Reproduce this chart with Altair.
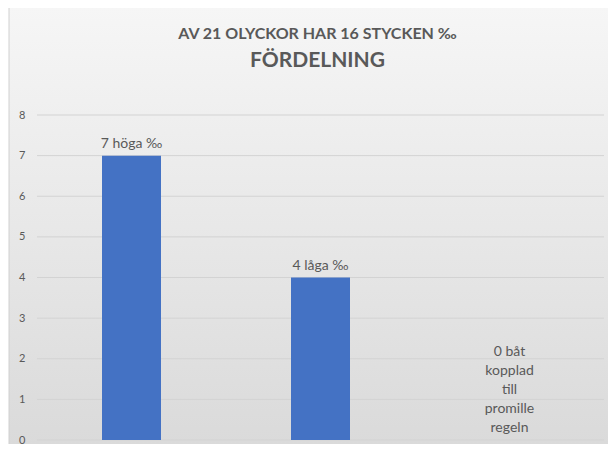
import altair as alt
import pandas as pd

categories = ["Höga", "Låga", "Kopplad"]
values = [7, 4, 0]
labels = ["7 höga ‰", "4 låga ‰", "0 båt\nkopplad\ntill\npromille\nregeln"]
y_ticks = [0, 1, 2, 3, 4, 5, 6, 7, 8]
title_line1 = "AV 21 OLYCKOR HAR 16 STYCKEN ‰"
title_line2 = "FÖRDELNING"

df = pd.DataFrame({"kategori": categories, "antal": values, "etikett": labels})
df["rader"] = df["etikett"].str.count("\n")
grid_df = pd.DataFrame({"v": y_ticks})
one = pd.DataFrame({"a": [0]})

W, H = 567, 325
PAD = {"left": 29, "top": 107, "right": 4, "bottom": 4}
FONT = "Lato"
TXT = "#595959"
LH = 19
TOP = 8 + PAD["top"]

grad = alt.LinearGradient(
    gradient="linear",
    stops=[alt.GradientStop(color="#f6f6f6", offset=0),
           alt.GradientStop(color="#d9d9d9", offset=1)],
    x1=0, x2=0, y1=0, y2=1,
)

bg = alt.Chart(one).mark_rect(
    fill=grad, stroke="#d0d0d0", strokeWidth=1
).encode(
    x=alt.value(-PAD["left"] + 1), x2=alt.value(W + 20),
    y=alt.value(-PAD["top"] - 1), y2=alt.value(H + 20),
)

t1 = alt.Chart(one).mark_text(
    font=FONT, fontSize=16, fontWeight="bold", color=TXT, baseline="alphabetic"
).encode(x=alt.value(W / 2 - 3), y=alt.value(38.5 - TOP), text=alt.value(title_line1))

t2 = alt.Chart(one).mark_text(
    font=FONT, fontSize=21, fontWeight="bold", color=TXT, baseline="alphabetic"
).encode(x=alt.value(W / 2 - 3), y=alt.value(67 - TOP), text=alt.value(title_line2))

y_scale = alt.Scale(domain=[0, 8])

grid = alt.Chart(grid_df).mark_rule(color="#d3d3d3", strokeWidth=1).encode(
    y=alt.Y("v:Q", scale=y_scale,
            axis=alt.Axis(values=y_ticks, title=None, domain=False, ticks=False,
                          grid=False, labelColor=TXT, labelFont=FONT,
                          labelFontSize=11, labelPadding=12, zindex=1)),
    x=alt.value(0), x2=alt.value(W),
)

x_enc = alt.X("kategori:N", sort=categories, axis=None,
              scale=alt.Scale(paddingInner=0, paddingOuter=0))

bars = alt.Chart(df).mark_bar(size=59, color="#4472C4").encode(
    x=x_enc,
    y=alt.Y("antal:Q", scale=y_scale),
)

text_single = alt.Chart(df).transform_filter("datum.rader == 0").mark_text(
    baseline="bottom", dy=-5, font=FONT, fontSize=14, color=TXT,
).encode(x=x_enc, y=alt.Y("antal:Q", scale=y_scale), text="etikett:N")

text_multi = alt.Chart(df).transform_filter("datum.rader == 4").mark_text(
    baseline="bottom", dy=-5 - 4 * LH, font=FONT, fontSize=14, color=TXT,
    lineBreak="\n", lineHeight=LH,
).encode(x=x_enc, y=alt.Y("antal:Q", scale=y_scale), text="etikett:N")

chart = alt.layer(bg, t1, t2, grid, bars, text_single, text_multi).properties(
    width=W, height=H,
    padding=PAD,
    autosize=alt.AutoSizeParams(type="none"),
).configure_view(stroke=None).configure(background="white")

chart.save("out.html", embed_options={"renderer": "svg", "actions": False})
